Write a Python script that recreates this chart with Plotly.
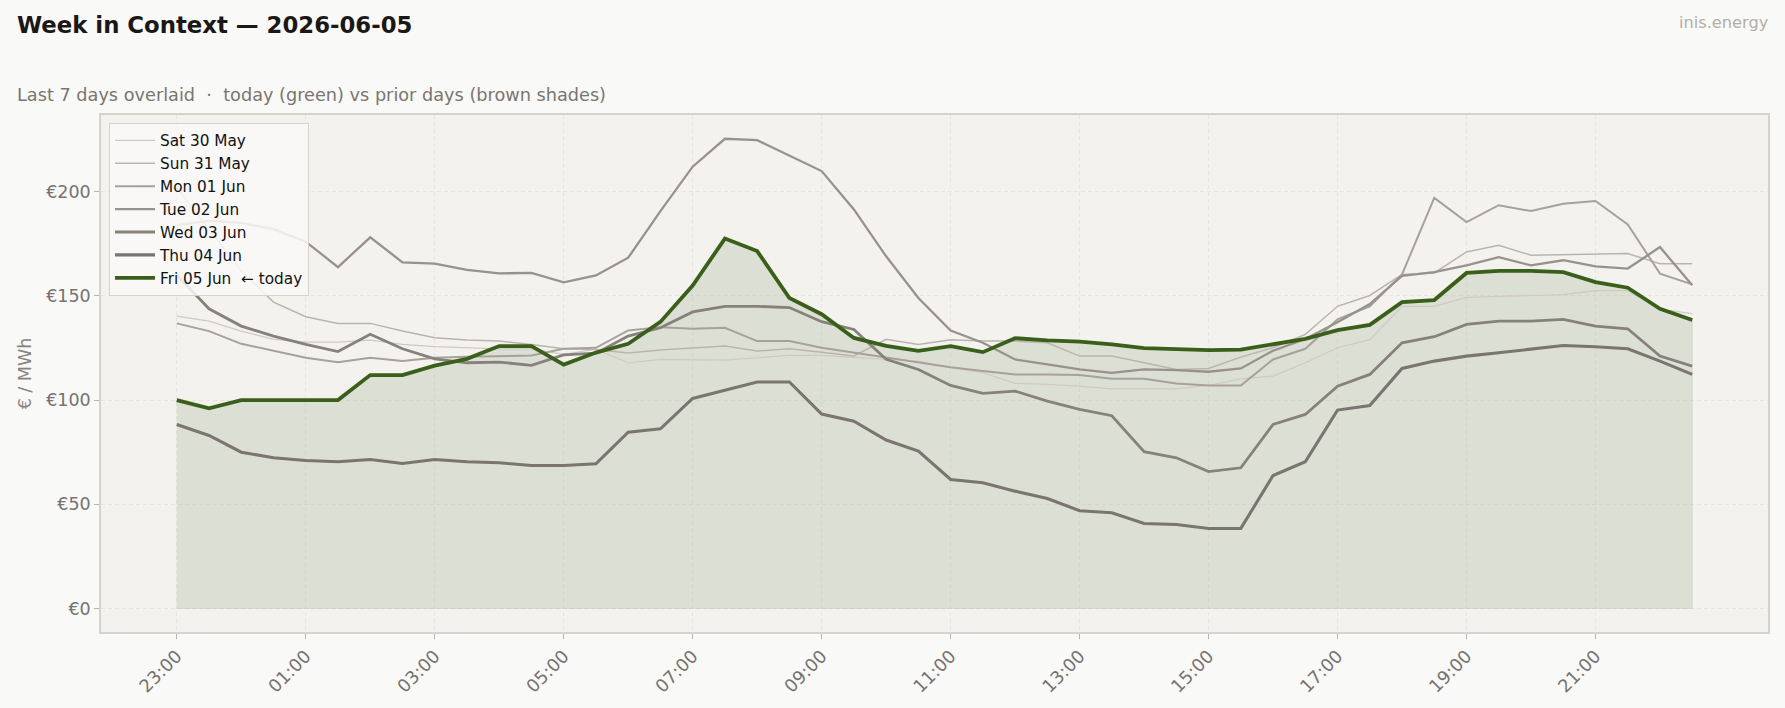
import plotly.graph_objects as go

# ---- data ----
times = ["23:00", "23:30", "00:00", "00:30", "01:00", "01:30", "02:00", "02:30",
         "03:00", "03:30", "04:00", "04:30", "05:00", "05:30", "06:00", "06:30",
         "07:00", "07:30", "08:00", "08:30", "09:00", "09:30", "10:00", "10:30",
         "11:00", "11:30", "12:00", "12:30", "13:00", "13:30", "14:00", "14:30",
         "15:00", "15:30", "16:00", "16:30", "17:00", "17:30", "18:00", "18:30",
         "19:00", "19:30", "20:00", "20:30", "21:00", "21:30", "22:00", "22:30"]
tick_labels = ["23:00", "01:00", "03:00", "05:00", "07:00", "09:00",
               "11:00", "13:00", "15:00", "17:00", "19:00", "21:00"]

sat_30_may = [140.3, 137.9, 133.1, 129.1, 127.8, 127.8, 128.8, 126.7, 125.6, 125.1, 124.6, 124.6,
              121.9, 124.4, 117.8, 119.5, 119.5, 119.2, 120.3, 121.4, 121.4, 120.3, 119.5, 118.7,
              115.5, 113.1, 108.0, 107.5, 106.7, 105.4, 105.4, 105.4, 107.0, 110.2, 111.5, 117.9,
              125.1, 129.0, 145.0, 145.0, 149.3, 149.8, 150.1, 150.6, 152.5, 152.5, 143.5, 141.5]
sun_31_may = [202.0, 182.0, 162.0, 147.0, 140.0, 136.8, 136.8, 133.1, 129.9, 128.8, 128.3, 126.7,
              124.6, 124.3, 122.6, 124.0, 125.1, 125.9, 123.5, 124.6, 123.0, 121.2, 129.2, 126.7,
              129.0, 128.3, 128.3, 127.5, 121.1, 121.1, 117.9, 114.7, 115.2, 120.6, 125.1, 131.5,
              145.0, 150.2, 160.3, 161.0, 171.1, 174.3, 169.5, 169.7, 170.2, 170.3, 165.4, 165.4]
mon_01_jun = [136.8, 133.1, 127.0, 123.5, 120.3, 118.2, 120.3, 118.7, 120.3, 120.8, 121.1, 121.4,
              124.6, 125.1, 133.4, 135.0, 134.2, 134.7, 128.3, 128.3, 125.1, 122.7, 120.3, 117.9,
              115.8, 113.9, 112.3, 112.3, 112.0, 110.2, 110.2, 108.0, 107.0, 107.0, 119.5, 124.6,
              138.7, 145.0, 160.3, 197.0, 185.4, 193.5, 190.7, 194.2, 195.5, 184.3, 160.7, 155.5]
tue_02_jun = [184.0, 186.0, 185.0, 182.0, 176.0, 163.8, 178.1, 166.1, 165.5, 162.5, 160.8, 161.0,
              156.5, 159.8, 168.3, 190.7, 212.0, 225.4, 224.7, 217.4, 209.9, 191.5, 169.0, 149.0,
              133.4, 127.5, 119.5, 117.1, 114.7, 113.1, 114.7, 114.4, 113.6, 115.2, 123.7, 129.3,
              137.3, 146.1, 159.6, 161.4, 164.6, 168.6, 164.6, 167.1, 164.2, 163.1, 173.4, 155.1]
wed_03_jun = [160.0, 143.8, 135.5, 130.7, 126.7, 123.3, 131.6, 124.6, 119.8, 117.9, 118.2, 116.7,
              121.7, 122.5, 130.7, 134.7, 142.3, 145.0, 145.0, 144.4, 137.6, 133.9, 119.6, 114.7,
              107.0, 103.2, 104.3, 99.5, 95.5, 92.5, 75.2, 72.3, 65.7, 67.5, 88.3, 93.1,
              106.7, 112.3, 127.5, 130.4, 136.3, 137.9, 137.9, 138.7, 135.5, 134.2, 121.1, 116.3]
thu_04_jun = [88.3, 83.0, 75.0, 72.3, 71.0, 70.4, 71.5, 69.6, 71.5, 70.4, 69.9, 68.6,
              68.6, 69.4, 84.6, 86.2, 100.8, 104.8, 108.7, 108.7, 93.3, 89.9, 80.8, 75.5,
              61.9, 60.3, 56.3, 52.8, 46.9, 45.9, 40.8, 40.3, 38.4, 38.4, 63.8, 70.4,
              95.2, 97.4, 115.2, 118.7, 121.1, 122.7, 124.3, 126.2, 125.6, 124.6, 118.7, 112.3]
fri_05_jun = [100.0, 96.0, 100.0, 100.0, 100.0, 100.0, 112.0, 112.0, 116.5, 119.8, 125.9, 125.9,
              117.0, 122.8, 127.0, 137.5, 155.0, 177.5, 171.5, 149.0, 141.2, 129.8, 126.0, 123.6,
              125.9, 123.0, 129.7, 128.6, 128.0, 126.7, 124.9, 124.6, 124.0, 124.2, 126.7, 129.4,
              133.6, 136.1, 147.0, 148.0, 161.0, 162.0, 162.0, 161.4, 156.6, 153.9, 143.8, 138.4]

prior_names = ["Sat 30 May", "Sun 31 May", "Mon 01 Jun", "Tue 02 Jun", "Wed 03 Jun", "Thu 04 Jun"]
prior_values = [sat_30_may, sun_31_may, mon_01_jun, tue_02_jun, wed_03_jun, thu_04_jun]
today_name = "Fri 05 Jun\u00a0\u00a0\u2190 today"

# ---- styles ----
prior_colors = ["#cfc9c3", "#bbb4ae", "#a8a09b", "#99918c", "#87817c", "#7a7571"]
prior_widths = [1.2, 1.5, 2.0, 2.3, 2.8, 3.1]
green = "#3a5f1a"
font = "DejaVu Sans"

fig = go.Figure()

# fill under today's line (drawn first, beneath the day lines)
fig.add_trace(go.Scatter(x=times + times[::-1], y=fri_05_jun + [0] * len(times),
                         mode="lines", fill="toself", fillcolor="rgba(58,95,26,0.12)",
                         line=dict(color="rgba(58,95,26,0.10)", width=1),
                         showlegend=False, hoverinfo="skip"))

for name, vals, col, w in zip(prior_names, prior_values, prior_colors, prior_widths):
    fig.add_trace(go.Scatter(x=times, y=vals, mode="lines", name=name,
                             line=dict(color=col, width=w)))

fig.add_trace(go.Scatter(x=times, y=fri_05_jun, mode="lines", name=today_name,
                         line=dict(color=green, width=3.8)))

L, R, T, B = 101, 17, 115, 76
W, H = 1785, 708
pw, ph = W - L - R, H - T - B


def px_x(px):
    return (px - L) / pw


def px_y(py):
    return (H - B - py) / ph


grid_col = "#e8e5e0"

fig.update_layout(
    width=W, height=H, autosize=False,
    margin=dict(l=L, r=R, t=T, b=B),
    paper_bgcolor="#f9f9f7", plot_bgcolor="#f3f2ee",
    font=dict(family=font, color="#777270"),
    showlegend=True,
    legend=dict(x=px_x(109), y=px_y(123), xanchor="left", yanchor="top",
                bgcolor="rgba(249,249,247,0.85)", bordercolor="#d6d2cc", borderwidth=1,
                font=dict(family=font, size=15.3, color="#111111"),
                tracegroupgap=0, itemwidth=40, traceorder="normal"),
    xaxis=dict(type="category", range=[-2.35, 49.35],
               tickmode="array", tickvals=tick_labels, ticktext=tick_labels,
               tickangle=-45, ticks="outside", ticklen=5, tickcolor="#b8b3ad",
               tickfont=dict(family=font, size=17.8, color="#777270"),
               showgrid=True, gridcolor=grid_col, griddash="4px,3px", gridwidth=1,
               showline=True, mirror=True, linecolor="#d6d2cc", linewidth=1.5,
               zeroline=False, automargin=False),
    yaxis=dict(range=[-11.3, 236.8], tick0=0, dtick=50, tickprefix="€",
               ticks="outside", ticklen=5, tickcolor="#b8b3ad",
               tickfont=dict(family=font, size=17.5, color="#777270"),
               showgrid=True, gridcolor=grid_col, griddash="4px,3px", gridwidth=1,
               showline=True, mirror=True, linecolor="#d6d2cc", linewidth=1.5,
               zeroline=False, automargin=False,
               title=dict(text="€ / MWh", standoff=10,
                          font=dict(family=font, size=17.5, color="#888380"))),
)

fig.add_annotation(text="<b>Week in Context — 2026-06-05</b>", xref="paper", yref="paper",
                   x=px_x(15), y=px_y(25), xanchor="left", yanchor="middle", showarrow=False,
                   font=dict(family=font, size=22.8, color="#1a1715"))
fig.add_annotation(text="Last 7 days overlaid  ·  today (green) vs prior days (brown shades)",
                   xref="paper", yref="paper", x=px_x(15), y=px_y(95),
                   xanchor="left", yanchor="middle", showarrow=False,
                   font=dict(family=font, size=17.7, color="#7a7570"))
fig.add_annotation(text="inis.energy", xref="paper", yref="paper", x=px_x(1771), y=px_y(22),
                   xanchor="right", yanchor="middle", showarrow=False,
                   font=dict(family=font, size=16.2, color="#b3aea9"))

fig.write_html("out.html")
